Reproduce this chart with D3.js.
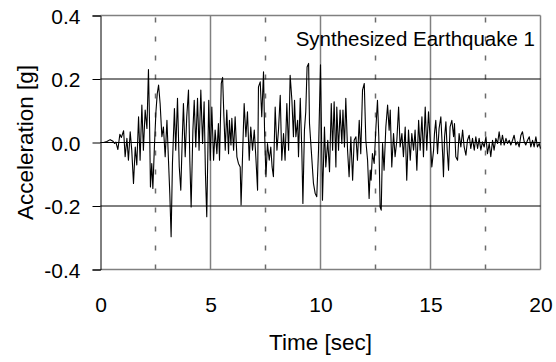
<!DOCTYPE html>
<html>
<head>
<meta charset="utf-8">
<script src="https://cdn.jsdelivr.net/npm/d3@7"></script>
<style>
    body { margin: 0; background: #fff; }
    text { font-family: "Liberation Sans", Arial, sans-serif; fill: #000; }
</style>
</head>
<body>
<div id="app"></div>
<script>
// ----- Data -----

const timeSec = [
    0, 0.14, 0.29, 0.44, 0.55, 0.64, 0.70, 0.79, 0.88, 0.95,
    1.05, 1.12, 1.20, 1.27, 1.35, 1.42, 1.50, 1.58, 1.65, 1.73,
    1.80, 1.88, 1.95, 2.03, 2.11, 2.18, 2.23, 2.27, 2.33, 2.38,
    2.45, 2.52, 2.58, 2.64, 2.71, 2.79, 2.86, 2.94, 3.02, 3.09,
    3.15, 3.21, 3.27, 3.36, 3.42, 3.50, 3.58, 3.65, 3.71, 3.77,
    3.85, 3.92, 4.00, 4.06, 4.12, 4.20, 4.26, 4.33, 4.41, 4.48,
    4.56, 4.64, 4.71, 4.77, 4.83, 4.92, 4.99, 5.06, 5.14, 5.21,
    5.29, 5.36, 5.41, 5.49, 5.55, 5.61, 5.67, 5.74, 5.82, 5.86,
    5.93, 5.97, 6.05, 6.12, 6.20, 6.27, 6.35, 6.39, 6.46, 6.53,
    6.61, 6.68, 6.76, 6.83, 6.91, 6.99, 7.06, 7.14, 7.18, 7.26,
    7.33, 7.41, 7.46, 7.52, 7.59, 7.67, 7.74, 7.80, 7.86, 7.94,
    8.02, 8.09, 8.17, 8.24, 8.32, 8.39, 8.47, 8.55, 8.62, 8.70,
    8.77, 8.82, 8.88, 8.96, 9.00, 9.08, 9.15, 9.20, 9.27, 9.33,
    9.39, 9.46, 9.50, 9.58, 9.64, 9.68, 9.76, 9.83, 9.91, 10.00,
    10.09, 10.18, 10.24, 10.33, 10.41, 10.49, 10.55, 10.62, 10.70, 10.74,
    10.82, 10.89, 10.97, 11.02, 11.09, 11.15, 11.23, 11.30, 11.38, 11.46,
    11.53, 11.61, 11.68, 11.76, 11.83, 11.91, 11.99, 12.06, 12.14, 12.21,
    12.26, 12.30, 12.36, 12.44, 12.52, 12.59, 12.65, 12.71, 12.76, 12.82,
    12.89, 12.97, 13.05, 13.12, 13.17, 13.24, 13.32, 13.39, 13.47, 13.55,
    13.62, 13.70, 13.77, 13.85, 13.92, 14.00, 14.08, 14.15, 14.23, 14.30,
    14.38, 14.46, 14.53, 14.61, 14.68, 14.76, 14.83, 14.91, 15.06, 15.14,
    15.18, 15.24, 15.32, 15.39, 15.47, 15.55, 15.59, 15.64, 15.70, 15.76,
    15.82, 15.89, 15.97, 16.05, 16.09, 16.15, 16.23, 16.30, 16.38, 16.46,
    16.53, 16.61, 16.68, 16.76, 16.83, 16.91, 16.99, 17.06, 17.14, 17.21,
    17.29, 17.36, 17.44, 17.52, 17.59, 17.67, 17.74, 17.82, 17.89, 17.97,
    18.05, 18.12, 18.20, 18.27, 18.35, 18.43, 18.50, 18.58, 18.65, 18.73,
    18.80, 18.88, 18.96, 19.03, 19.11, 19.18, 19.26, 19.33, 19.41, 19.49,
    19.56, 19.64, 19.71, 19.79, 19.86, 19.94, 20.00
];

const accelG = [
    0.000, 0.000, 0.003, 0.009, 0.005, -0.003, 0.001, -0.022, 0.026, 0.016,
    0.037, -0.045, 0.013, -0.056, 0.034, -0.024, -0.129, -0.014, -0.071, 0.081,
    -0.056, 0.118, -0.024, 0.102, 0.044, 0.230, 0.060, -0.140, -0.066, -0.145,
    -0.014, 0.097, 0.154, 0.181, 0.123, 0.018, 0.049, -0.045, 0.070, -0.056,
    -0.161, -0.297, -0.066, 0.107, -0.024, 0.139, -0.077, -0.150, -0.003, 0.123,
    -0.045, 0.081, 0.165, -0.056, -0.203, 0.039, 0.133, -0.014, 0.139, -0.024,
    0.165, -0.003, 0.128, -0.098, -0.234, 0.133, -0.056, 0.112, -0.056, 0.039,
    -0.035, 0.060, -0.056, 0.186, 0.205, 0.081, -0.024, 0.102, -0.035, 0.070,
    -0.008, 0.076, -0.024, 0.081, -0.045, -0.066, -0.077, -0.197, -0.035, 0.123,
    0.018, 0.097, -0.056, 0.049, -0.024, 0.039, -0.045, -0.150, 0.175, 0.191,
    0.081, 0.223, 0.028, -0.108, -0.003, -0.056, -0.014, -0.077, -0.108, 0.112,
    -0.024, 0.039, 0.149, -0.056, 0.028, -0.056, 0.123, -0.024, 0.212, 0.133,
    0.018, 0.133, 0.018, 0.070, -0.045, 0.139, -0.024, -0.192, 0.039, 0.097,
    0.238, 0.249, 0.060, -0.024, -0.087, -0.129, -0.161, -0.171, -0.024, 0.245,
    -0.182, 0.049, -0.077, 0.007, -0.092, 0.123, -0.024, 0.128, -0.077, 0.112,
    -0.024, 0.102, -0.003, 0.102, -0.014, 0.139, -0.024, -0.108, 0.018, -0.119,
    0.007, 0.018, -0.056, 0.070, -0.035, 0.165, 0.186, 0.007, -0.056, -0.176,
    -0.087, -0.119, -0.035, -0.066, 0.049, 0.133, 0.018, -0.203, -0.213, -0.003,
    -0.087, 0.049, 0.118, 0.039, 0.102, -0.077, 0.028, -0.045, 0.007, 0.112,
    -0.014, 0.028, -0.045, 0.049, -0.119, 0.039, -0.056, 0.028, -0.024, 0.039,
    -0.087, 0.070, -0.024, 0.081, -0.045, 0.112, -0.024, 0.097, -0.077, -0.024,
    0.028, 0.070, -0.035, 0.044, 0.081, -0.035, -0.108, 0.018, 0.065, -0.024,
    -0.087, 0.049, 0.070, 0.018, 0.060, -0.045, -0.056, 0.028, -0.014, 0.039,
    -0.014, -0.040, 0.007, 0.023, -0.019, 0.013, -0.024, 0.018, -0.019, 0.013,
    -0.024, 0.002, -0.014, 0.018, -0.035, -0.003, -0.045, 0.007, -0.024, 0.013,
    -0.003, 0.034, -0.008, 0.023, -0.008, 0.013, -0.003, 0.007, -0.008, 0.007,
    0.023, -0.008, 0.002, -0.014, 0.023, 0.034, 0.002, -0.008, 0.007, 0.018,
    -0.014, 0.007, -0.014, 0.018, -0.014, -0.003, -0.019
];

const yTicks = [-0.4, -0.2, 0.0, 0.2, 0.4];
const xTicks = [0, 5, 10, 15, 20];
const xMinorTicks = [2.5, 7.5, 12.5, 17.5];
const chartLabel = "Synthesized Earthquake 1";
const xTitle = "Time [sec]";
const yTitle = "Acceleration [g]";

// ----- Main program -----

function main() {
    const width = 556, height = 362;
    const left = 100.5, right = 540.5, top = 15.5, bottom = 269.5;

    const svg = d3.select("#app").append("svg")
        .attr("width", width)
        .attr("height", height);

    // Create scales
    const xScale = d3.scaleLinear()
        .domain([0, 20])
        .range([left, right]);
    const yScale = d3.scaleLinear()
        .domain([-0.4, 0.4])
        .range([bottom, top]);

    // Vertical grid: solid at major ticks, dashed halfway between
    svg.append("g")
        .selectAll("line")
        .data(xTicks.slice(1))
        .enter()
        .append("line")
            .attr("x1", d => xScale(d))
            .attr("x2", d => xScale(d))
            .attr("y1", top)
            .attr("y2", bottom)
            .attr("stroke", "#808080")
            .attr("stroke-width", 1.5);

    svg.append("g")
        .selectAll("line")
        .data(xMinorTicks)
        .enter()
        .append("line")
            .attr("x1", d => xScale(d))
            .attr("x2", d => xScale(d))
            .attr("y1", top)
            .attr("y2", bottom)
            .attr("stroke", "#6b6b6b")
            .attr("stroke-width", 1.5)
            .attr("stroke-dasharray", "5,14")
            .attr("stroke-dashoffset", -2);

    // Top and bottom frame (grey)
    svg.append("g")
        .selectAll("line")
        .data([0.4, -0.4])
        .enter()
        .append("line")
            .attr("x1", left)
            .attr("x2", right)
            .attr("y1", d => yScale(d))
            .attr("y2", d => yScale(d))
            .attr("stroke", "#808080")
            .attr("stroke-width", 1.5);

    // Horizontal grid (black)
    svg.append("g")
        .selectAll("line")
        .data(yTicks.slice(1, -1))
        .enter()
        .append("line")
            .attr("x1", left)
            .attr("x2", right)
            .attr("y1", d => yScale(d))
            .attr("y2", d => yScale(d))
            .attr("stroke", "#000")
            .attr("stroke-width", 1);

    // Acceleration trace
    const line = d3.line()
        .x((d, i) => xScale(timeSec[i]))
        .y(d => yScale(d));
    svg.append("path")
        .datum(accelG)
        .attr("d", line)
        .attr("fill", "none")
        .attr("stroke", "#000")
        .attr("stroke-width", 1.1)
        .attr("stroke-linejoin", "round");

    // Create axes
    const axisLeft = d3.axisLeft(yScale)
        .tickValues(yTicks)
        .tickSize(8)
        .tickPadding(12)
        .tickFormat(d => d.toFixed(1)); // plain hyphen for negatives
    const gy = svg.append("g")
        .attr("transform", `translate(${left}, 0)`)
        .call(axisLeft);
    gy.select(".domain").attr("stroke", "#000");
    gy.selectAll("text")
        .attr("font-size", "21px")
        .attr("font-family", "Liberation Sans, Arial, sans-serif")
        .attr("dy", "0.36em");

    const axisBottom = d3.axisBottom(xScale)
        .tickValues(xTicks)
        .tickSize(0)
        .tickPadding(28);
    const gx = svg.append("g")
        .attr("transform", `translate(0, ${bottom})`)
        .call(axisBottom);
    gx.select(".domain").remove();
    gx.selectAll("text")
        .attr("font-size", "21px")
        .attr("font-family", "Liberation Sans, Arial, sans-serif");

    // Titles
    svg.append("text")
        .attr("x", (left + right) / 2)
        .attr("y", 350)
        .attr("text-anchor", "middle")
        .attr("font-size", "22.5px")
        .text(xTitle);

    svg.append("text")
        .attr("transform", `translate(33, ${(top + bottom) / 2}) rotate(-90)`)
        .attr("text-anchor", "middle")
        .attr("font-size", "22.5px")
        .text(yTitle);

    svg.append("text")
        .attr("x", 535)
        .attr("y", 46)
        .attr("text-anchor", "end")
        .attr("font-size", "20.5px")
        .text(chartLabel);
}

main();
</script>
</body>
</html>
